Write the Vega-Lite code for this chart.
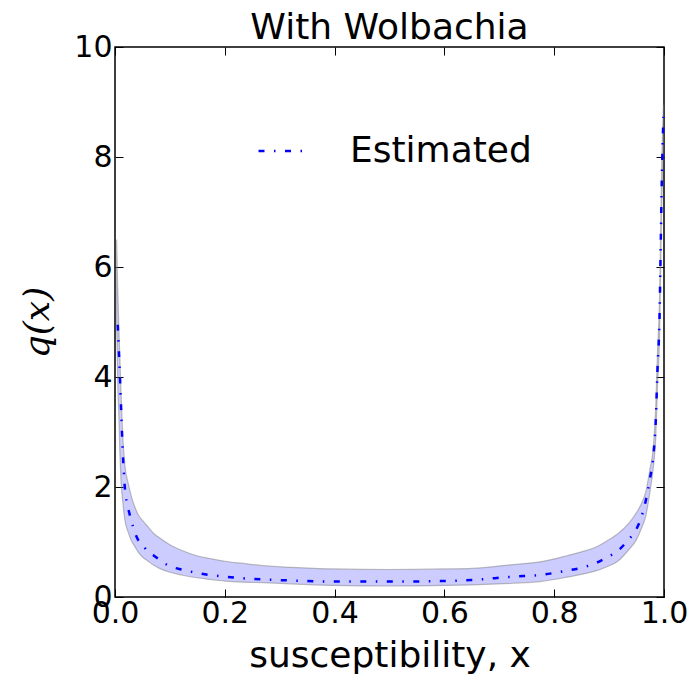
{
  "$schema": "https://vega.github.io/schema/vega-lite/v6.json",
  "autosize": "none",
  "width": 549,
  "height": 550,
  "padding": {"left": 115, "top": 47, "right": 33, "bottom": 83},
  "background": "white",
  "title": {"text": "With Wolbachia", "fontSize": 36, "font": "DejaVu Sans", "fontWeight": "normal", "color": "black", "offset": -15, "anchor": "middle"},
  "config": {
    "view": {"stroke": "black", "strokeWidth": 1.5},
    "axis": {"domain": false, "grid": false, "tickSize": -8, "tickColor": "black", "tickWidth": 1, "labelFont": "DejaVu Sans", "labelFontSize": 30, "labelColor": "black", "labelFlush": false, "labelOverlap": false, "titleColor": "black", "titleFontWeight": "normal"},
    "legend": {"orient": "none", "legendX": 142, "legendY": 80, "padding": 0, "symbolType": "stroke", "symbolSize": 2025, "symbolStrokeWidth": 2.5, "symbolDash": [6, 9.5, 1.5, 9.5], "labelFont": "DejaVu Sans", "labelFontSize": 36, "labelColor": "black", "labelOffset": 45, "labelLimit": 400, "title": null}
  },
  "data": {"values": [
    {"x": 0.003, "q": null, "lo": 5.0, "hi": 6.5},
    {"x": 0.005, "q": 4.95, "lo": 3.9, "hi": 5.6},
    {"x": 0.007, "q": 4.49, "lo": 3.3, "hi": 4.9},
    {"x": 0.009, "q": 4.0, "lo": 2.6, "hi": 4.3},
    {"x": 0.011, "q": 3.46, "lo": 2.1, "hi": 3.7},
    {"x": 0.014, "q": 2.67, "lo": 1.75, "hi": 2.95},
    {"x": 0.018, "q": 1.98, "lo": 1.4, "hi": 2.4},
    {"x": 0.024, "q": 1.62, "lo": 1.18, "hi": 2.07},
    {"x": 0.03, "q": 1.38, "lo": 1.02, "hi": 1.82},
    {"x": 0.036, "q": 1.18, "lo": 0.92, "hi": 1.64},
    {"x": 0.042, "q": 1.04, "lo": 0.82, "hi": 1.5},
    {"x": 0.052, "q": 0.92, "lo": 0.71, "hi": 1.37},
    {"x": 0.058, "q": 0.85, "lo": 0.67, "hi": 1.3},
    {"x": 0.07, "q": 0.76, "lo": 0.58, "hi": 1.16},
    {"x": 0.079, "q": 0.69, "lo": 0.53, "hi": 1.09},
    {"x": 0.1, "q": 0.56, "lo": 0.45, "hi": 0.95},
    {"x": 0.121, "q": 0.5, "lo": 0.4, "hi": 0.85},
    {"x": 0.149, "q": 0.44, "lo": 0.35, "hi": 0.75},
    {"x": 0.173, "q": 0.4, "lo": 0.32, "hi": 0.7},
    {"x": 0.2, "q": 0.37, "lo": 0.29, "hi": 0.65},
    {"x": 0.234, "q": 0.34, "lo": 0.27, "hi": 0.61},
    {"x": 0.27, "q": 0.32, "lo": 0.26, "hi": 0.57},
    {"x": 0.32, "q": 0.3, "lo": 0.24, "hi": 0.54},
    {"x": 0.4, "q": 0.28, "lo": 0.21, "hi": 0.51},
    {"x": 0.5, "q": 0.28, "lo": 0.2, "hi": 0.5},
    {"x": 0.6, "q": 0.29, "lo": 0.21, "hi": 0.51},
    {"x": 0.65, "q": 0.31, "lo": 0.22, "hi": 0.52},
    {"x": 0.725, "q": 0.37, "lo": 0.25, "hi": 0.59},
    {"x": 0.774, "q": 0.4, "lo": 0.28, "hi": 0.64},
    {"x": 0.823, "q": 0.48, "lo": 0.36, "hi": 0.75},
    {"x": 0.853, "q": 0.54, "lo": 0.42, "hi": 0.83},
    {"x": 0.874, "q": 0.61, "lo": 0.47, "hi": 0.9},
    {"x": 0.896, "q": 0.72, "lo": 0.55, "hi": 1.02},
    {"x": 0.917, "q": 0.85, "lo": 0.66, "hi": 1.16},
    {"x": 0.935, "q": 1.04, "lo": 0.85, "hi": 1.33},
    {"x": 0.949, "q": 1.22, "lo": 1.03, "hi": 1.52},
    {"x": 0.959, "q": 1.46, "lo": 1.25, "hi": 1.7},
    {"x": 0.967, "q": 1.76, "lo": 1.48, "hi": 1.92},
    {"x": 0.974, "q": 2.13, "lo": 1.89, "hi": 2.3},
    {"x": 0.981, "q": 2.61, "lo": 2.4, "hi": 2.78},
    {"x": 0.985, "q": 3.2, "lo": 2.9, "hi": 3.45},
    {"x": 0.988, "q": 4.1, "lo": 3.8, "hi": 4.4},
    {"x": 0.992, "q": 5.16, "lo": 4.8, "hi": 5.5},
    {"x": 0.994, "q": 6.37, "lo": 6.0, "hi": 6.7},
    {"x": 0.996, "q": 7.58, "lo": 7.2, "hi": 7.9},
    {"x": 0.999, "q": 8.73, "lo": 8.4, "hi": 8.95}
  ]},
  "layer": [
    {
      "mark": {"type": "area", "fill": "#0000ff", "fillOpacity": 0.2, "stroke": "#808080", "strokeOpacity": 0.5, "strokeWidth": 1.2, "interpolate": "monotone"},
      "encoding": {
        "x": {"field": "x", "type": "quantitative", "scale": {"domain": [0, 1], "nice": false, "zero": false}, "axis": {"orient": "bottom", "values": [0, 0.2, 0.4, 0.6, 0.8, 1.0], "format": ".1f", "labelPadding": 9, "title": "susceptibility, x", "titleFont": "DejaVu Sans", "titleFontSize": 36, "titlePadding": 10}},
        "y": {"field": "lo", "type": "quantitative", "scale": {"domain": [0, 10], "nice": false, "zero": false}, "axis": {"orient": "left", "values": [0, 2, 4, 6, 8, 10], "format": "d", "labelPadding": 11, "title": "q(x)", "titleFont": "DejaVu Serif", "titleFontStyle": "italic", "titleFontSize": 36, "titlePadding": 17}},
        "y2": {"field": "hi"}
      }
    },
    {
      "mark": {"type": "line", "strokeWidth": 2.5, "strokeDash": [6, 9.5, 1.5, 9.5], "interpolate": "monotone"},
      "encoding": {
        "x": {"field": "x", "type": "quantitative", "axis": {"orient": "top", "values": [0, 0.2, 0.4, 0.6, 0.8, 1.0], "labels": false, "title": null}},
        "y": {"field": "q", "type": "quantitative", "axis": {"orient": "right", "values": [0, 2, 4, 6, 8, 10], "labels": false, "title": null}},
        "color": {"datum": "Estimated", "type": "nominal", "scale": {"range": ["#0000ff"]}, "legend": {"title": null}}
      }
    }
  ],
  "resolve": {"axis": {"x": "independent", "y": "independent"}}
}
